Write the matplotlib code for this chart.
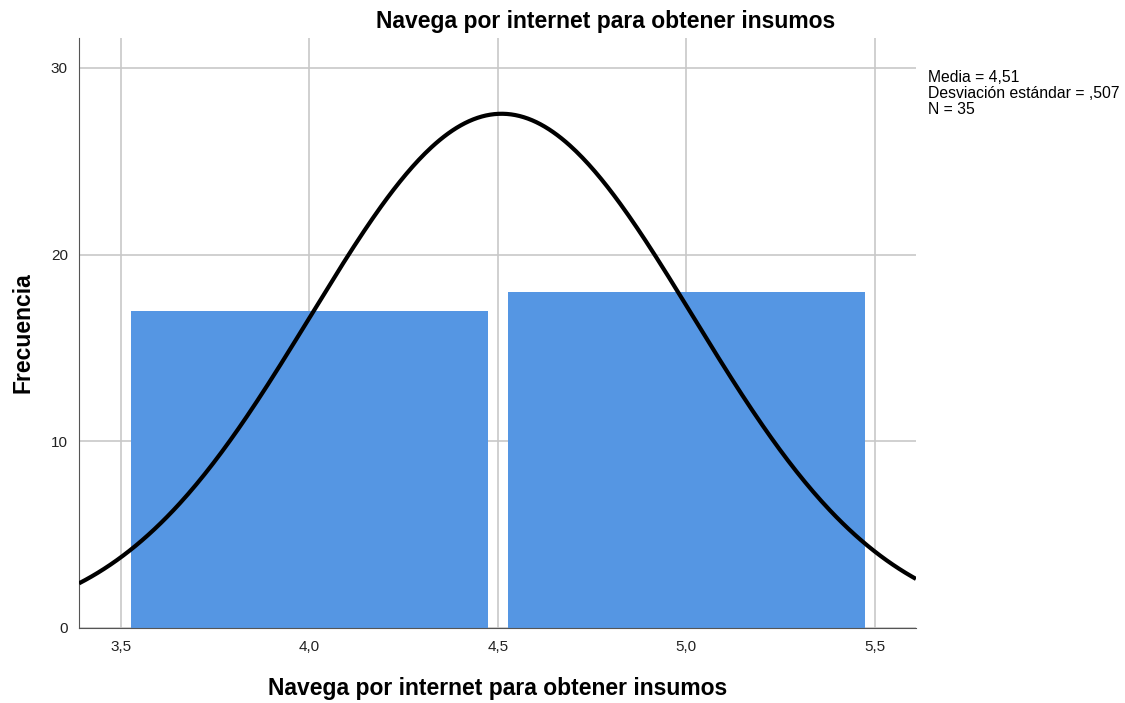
import numpy as np
import matplotlib
matplotlib.use("Agg")
from matplotlib import pyplot as plt

plt.rcParams['font.family'] = ['Liberation Sans', 'DejaVu Sans']

# histogram data
bin_centers = [4.0, 5.0]
counts = [17, 18]
media = 4.51
desv = 0.507
n = 35
bin_width = 1.0

titulo = "Navega por internet para obtener insumos"
x_ticks = [3.5, 4.0, 4.5, 5.0, 5.5]
x_labels = ["3,5", "4,0", "4,5", "5,0", "5,5"]
y_ticks = [0, 10, 20, 30]

fig = plt.figure(figsize=(11.25, 7.03), dpi=100)
ax = fig.add_axes([0.0702, 0.1067, 0.7440, 0.8393])

ax.set_xlim(3.389, 5.609)
ax.set_ylim(0, 31.6)

ax.set_xticks(x_ticks)
ax.set_xticklabels(x_labels)
ax.set_yticks(y_ticks)
ax.grid(True, color="#c8c8c8", linewidth=1.2)
ax.set_axisbelow(True)

ax.bar(bin_centers, counts, width=0.947, color="#5596e3", edgecolor="none", zorder=2)

# normal curve from the reported stats
xs = np.linspace(3.389, 5.609, 400)
ys = n * bin_width / (desv * np.sqrt(2 * np.pi)) * np.exp(-0.5 * ((xs - media) / desv) ** 2)
ax.plot(xs, ys, color="black", linewidth=3.0, zorder=3, solid_capstyle="butt")

for s in ["top", "right"]:
    ax.spines[s].set_visible(False)
ax.spines["left"].set_color("#555555")
ax.spines["bottom"].set_color("#555555")
ax.tick_params(length=0, labelsize=11, colors="#222222")
ax.tick_params(axis="x", pad=9)
ax.tick_params(axis="y", pad=8)

fig.text(0.538, 0.970, titulo, fontsize=16.5, fontweight="bold", ha="center", va="center")
ax.set_xlabel(titulo, fontsize=16.5, fontweight="bold", labelpad=16)
ax.set_ylabel("Frecuencia", fontsize=16.5, fontweight="bold", labelpad=12)

fig.text(0.8249, 0.900, "Media = 4,51\nDesviación estándar = ,507\nN = 35",
         fontsize=11.3, va="top", ha="left", linespacing=1.08)

plt.savefig("out.png", dpi=100)
